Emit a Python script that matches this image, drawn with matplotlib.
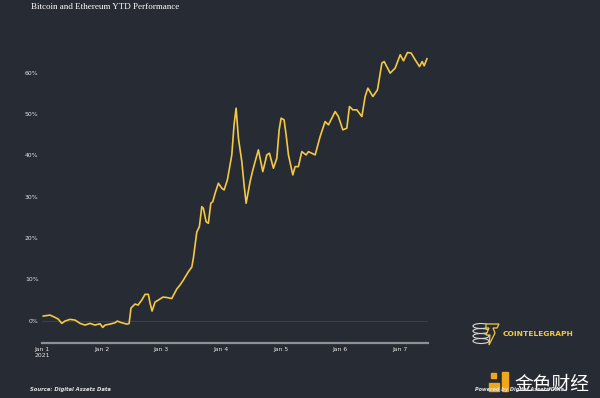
import numpy as np
import matplotlib.pyplot as plt
from matplotlib.patches import Ellipse, Polygon, Rectangle

# YTD performance (%); x = days since Jan 1
days = [0.022, 0.134, 0.218, 0.273, 0.331, 0.386, 0.470, 0.554, 0.638, 0.722,
        0.805, 0.889, 0.973, 1.018, 1.057, 1.141, 1.225, 1.263, 1.337, 1.421,
        1.460, 1.493, 1.560, 1.611, 1.673, 1.728, 1.784, 1.812, 1.846, 1.896,
        1.951, 2.030, 2.097, 2.176, 2.260, 2.315, 2.371, 2.455, 2.512, 2.539,
        2.596, 2.639, 2.680, 2.706, 2.752, 2.790, 2.831, 2.864, 2.903, 2.958,
        3.015, 3.054, 3.109, 3.183, 3.221, 3.255, 3.294, 3.351, 3.389, 3.423,
        3.490, 3.529, 3.574, 3.629, 3.703, 3.770, 3.814, 3.881, 3.938, 3.977,
        4.010, 4.060, 4.094, 4.133, 4.206, 4.245, 4.300, 4.357, 4.430, 4.468,
        4.581, 4.664, 4.748, 4.804, 4.861, 4.916, 4.971, 5.045, 5.112, 5.156,
        5.213, 5.280, 5.364, 5.419, 5.465, 5.549, 5.626, 5.700, 5.738, 5.839,
        5.923, 6.007, 6.062, 6.129, 6.191, 6.258, 6.331, 6.376, 6.409, 6.455]
perf = [1.09, 1.33, 0.77, 0.36, -0.68, -0.12, 0.29, 0.12, -0.68, -1.09,
        -0.68, -1.09, -0.77, -1.65, -1.09, -0.85, -0.53, -0.12, -0.53, -0.85,
        -0.73, 3.03, 4.00, 3.75, 4.96, 6.34, 6.34, 4.24, 2.30, 4.48,
        4.96, 5.69, 5.57, 5.33, 7.63, 8.60, 9.81, 11.82, 12.95, 15.13,
        21.43, 22.71, 27.55, 27.17, 23.92, 23.53, 28.38, 28.77, 30.80, 33.22,
        32.01, 31.60, 34.02, 40.07, 47.34, 51.38, 44.12, 38.45, 32.81, 28.38,
        33.61, 36.03, 38.45, 41.28, 36.03, 40.07, 40.48, 36.85, 39.27, 46.13,
        48.96, 48.55, 44.92, 40.07, 35.23, 37.24, 37.24, 40.87, 40.07, 40.87,
        40.07, 44.50, 48.14, 47.34, 48.96, 50.56, 49.35, 46.13, 46.54, 51.77,
        50.97, 50.97, 49.35, 54.19, 56.22, 54.19, 55.81, 62.28, 62.66, 59.85,
        61.07, 64.29, 62.83, 64.84, 64.70, 63.08, 61.45, 62.66, 61.62, 63.32]

xticks = [0, 1, 2, 3, 4, 5, 6]
xlabels = ['Jan 1\n2021', 'Jan 2', 'Jan 3', 'Jan 4', 'Jan 5', 'Jan 6', 'Jan 7']
yticks = [0, 10, 20, 30, 40, 50, 60]
ylabels = ['0%', '10%', '20%', '30%', '40%', '50%', '60%']

BG = '#272c34'
LINE = '#f4c844'
TXT = '#e2e2e2'

fig = plt.figure(figsize=(6, 3.98), dpi=100, facecolor=BG)
ax = fig.add_axes([0.07, 0.1374, 0.643, 0.75], facecolor=BG)

ax.axhline(0, color='#3a4049', lw=0.8, zorder=1)
ax.plot(days, perf, color=LINE, lw=1.2, zorder=3)

ax.set_xlim(0, 6.47)
ax.set_ylim(-5.5, 66.7)
ax.set_xticks(xticks)
ax.set_xticklabels(xlabels, fontsize=4.4, color=TXT, linespacing=1.4)
ax.set_yticks(yticks)
ax.set_yticklabels(ylabels, fontsize=4.4, color=TXT)
ax.tick_params(length=0, pad=2.5)
for s in ['left', 'right', 'top']:
    ax.spines[s].set_visible(False)
ax.spines['bottom'].set_color('#8c9198')
ax.spines['bottom'].set_linewidth(1.6)

fig.text(31 / 600, 1 - 7 / 398, 'Bitcoin and Ethereum YTD Performance',
         family='Liberation Serif', fontsize=6.5, color='white', va='center')
fig.text(30 / 600, 1 - 390 / 398, 'Source: Digital Assets Data',
         fontsize=3.8, color=TXT, style='italic', weight='bold', va='center')

# Cointelegraph logo
for yy in [326, 331, 336, 341]:
    fig.patches.append(Ellipse((481 / 600, 1 - yy / 398), 16 / 600, 5 / 398,
                               transform=fig.transFigure, fill=False,
                               ec='#d8d8d8', lw=0.8))
bolt = [(486, 324), (499, 324), (497, 328), (493, 328), (495, 333),
        (489, 345), (490, 335), (486, 335), (489, 328), (486, 328)]
fig.patches.append(Polygon([(x / 600, 1 - y / 398) for x, y in bolt],
                           closed=True, transform=fig.transFigure,
                           fc=BG, ec=LINE, lw=0.9))
fig.text(503 / 600, 1 - 334 / 398, 'COINTELEGRAPH', fontsize=5.4,
         color=LINE, weight='bold', va='center')

# watermark
fig.patches.append(Rectangle((489 / 600, 1 - 391 / 398), 10 / 600, 8 / 398,
                             transform=fig.transFigure, color='#f0a818'))
fig.patches.append(Rectangle((491 / 600, 1 - 378 / 398), 5 / 600, 5 / 398,
                             transform=fig.transFigure, color='#f0a818'))
fig.patches.append(Rectangle((502 / 600, 1 - 391 / 398), 6 / 600, 19 / 398,
                             transform=fig.transFigure, color='#f0a818'))
fig.text(514 / 600, 1 - 384 / 398, '金色财经', family='Noto Sans CJK SC',
         fontsize=13.5, color='white', va='center')
fig.text(475 / 600, 1 - 390 / 398, 'Powered by Digital Assets Data',
         fontsize=3.6, color=TXT, style='italic', weight='bold', va='center')

fig.savefig('out.png', dpi=100, facecolor=BG)
